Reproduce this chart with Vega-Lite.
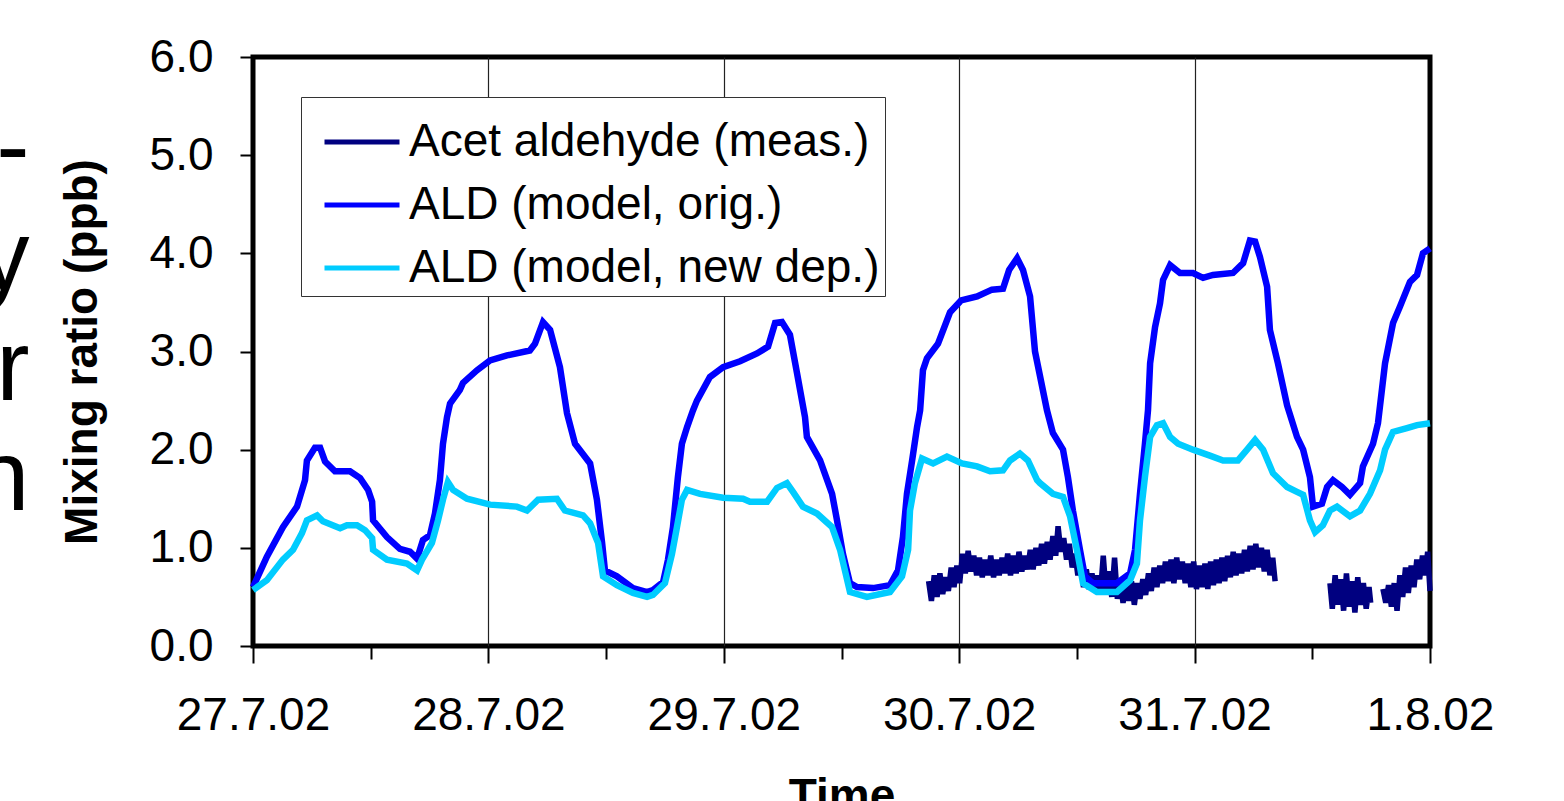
{
 "$schema": "https://vega.github.io/schema/vega-lite/v6.json",
 "autosize": "none",
 "width": 1177,
 "height": 589,
 "padding": {"left": 253, "top": 57, "right": 134, "bottom": 155},
 "background": "white",
 "title": {"text": ["-", "y", "r", "n"], "orient": "left", "angle": 0, "align": "right", "baseline": "middle", "anchor": "middle", "fontSize": 100, "lineHeight": 110, "font": "Liberation Sans", "fontWeight": "normal", "color": "black", "offset": 36, "dx": 62, "dy": -202},
 "datasets": {
  "meas": [
   {"s":"a","t":2.870,"v":0.66},{"s":"a","t":2.882,"v":0.46},{"s":"a","t":2.894,"v":0.72},{"s":"a","t":2.906,"v":0.50},{"s":"a","t":2.918,"v":0.74},{"s":"a","t":2.930,"v":0.53},{"s":"a","t":2.942,"v":0.70},{"s":"a","t":2.954,"v":0.56},{"s":"a","t":2.966,"v":0.80},{"s":"a","t":2.978,"v":0.60},{"s":"a","t":2.990,"v":0.82},{"s":"a","t":3.002,"v":0.64},{"s":"a","t":3.014,"v":0.94},{"s":"a","t":3.026,"v":0.74},{"s":"a","t":3.038,"v":0.97},{"s":"a","t":3.050,"v":0.76},{"s":"a","t":3.062,"v":0.92},{"s":"a","t":3.074,"v":0.72},{"s":"a","t":3.086,"v":0.90},{"s":"a","t":3.098,"v":0.70},{"s":"a","t":3.110,"v":0.88},{"s":"a","t":3.122,"v":0.72},{"s":"a","t":3.134,"v":0.92},{"s":"a","t":3.146,"v":0.70},{"s":"a","t":3.158,"v":0.88},{"s":"a","t":3.170,"v":0.72},{"s":"a","t":3.182,"v":0.90},{"s":"a","t":3.194,"v":0.74},{"s":"a","t":3.206,"v":0.94},{"s":"a","t":3.218,"v":0.72},{"s":"a","t":3.230,"v":0.92},{"s":"a","t":3.242,"v":0.74},{"s":"a","t":3.254,"v":0.96},{"s":"a","t":3.266,"v":0.76},{"s":"a","t":3.278,"v":0.92},{"s":"a","t":3.290,"v":0.78},{"s":"a","t":3.302,"v":0.98},{"s":"a","t":3.314,"v":0.78},{"s":"a","t":3.326,"v":1.00},{"s":"a","t":3.338,"v":0.82},{"s":"a","t":3.350,"v":1.04},{"s":"a","t":3.362,"v":0.84},{"s":"a","t":3.374,"v":1.06},{"s":"a","t":3.386,"v":0.88},{"s":"a","t":3.398,"v":1.12},{"s":"a","t":3.410,"v":0.92},{"s":"a","t":3.420,"v":1.22},{"s":"a","t":3.432,"v":0.96},{"s":"a","t":3.444,"v":1.10},{"s":"a","t":3.456,"v":0.88},{"s":"a","t":3.468,"v":1.04},{"s":"a","t":3.480,"v":0.80},{"s":"a","t":3.492,"v":0.94},{"s":"a","t":3.504,"v":0.72},{"s":"a","t":3.516,"v":0.86},{"s":"a","t":3.528,"v":0.60},{"s":"a","t":3.540,"v":0.78},{"s":"a","t":3.552,"v":0.58},{"s":"a","t":3.564,"v":0.74},{"s":"a","t":3.576,"v":0.56},{"s":"a","t":3.588,"v":0.72},{"s":"a","t":3.600,"v":0.54},{"s":"a","t":3.612,"v":0.92},{"s":"a","t":3.624,"v":0.54},{"s":"a","t":3.636,"v":0.76},{"s":"a","t":3.648,"v":0.50},{"s":"a","t":3.660,"v":0.90},{"s":"a","t":3.672,"v":0.48},{"s":"a","t":3.684,"v":0.66},{"s":"a","t":3.696,"v":0.44},{"s":"a","t":3.708,"v":0.64},{"s":"a","t":3.720,"v":0.46},{"s":"a","t":3.732,"v":0.66},{"s":"a","t":3.744,"v":0.42},{"s":"a","t":3.756,"v":0.64},{"s":"a","t":3.768,"v":0.48},{"s":"a","t":3.780,"v":0.68},{"s":"a","t":3.792,"v":0.52},{"s":"a","t":3.804,"v":0.74},{"s":"a","t":3.816,"v":0.56},{"s":"a","t":3.828,"v":0.80},{"s":"a","t":3.840,"v":0.60},{"s":"a","t":3.852,"v":0.82},{"s":"a","t":3.864,"v":0.64},{"s":"a","t":3.876,"v":0.86},{"s":"a","t":3.888,"v":0.66},{"s":"a","t":3.900,"v":0.88},{"s":"a","t":3.912,"v":0.64},{"s":"a","t":3.924,"v":0.90},{"s":"a","t":3.936,"v":0.68},{"s":"a","t":3.948,"v":0.86},{"s":"a","t":3.960,"v":0.64},{"s":"a","t":3.972,"v":0.84},{"s":"a","t":3.984,"v":0.60},{"s":"a","t":3.996,"v":0.86},{"s":"a","t":4.008,"v":0.58},{"s":"a","t":4.020,"v":0.82},{"s":"a","t":4.032,"v":0.60},{"s":"a","t":4.044,"v":0.84},{"s":"a","t":4.056,"v":0.58},{"s":"a","t":4.068,"v":0.86},{"s":"a","t":4.080,"v":0.62},{"s":"a","t":4.092,"v":0.88},{"s":"a","t":4.104,"v":0.64},{"s":"a","t":4.116,"v":0.90},{"s":"a","t":4.128,"v":0.66},{"s":"a","t":4.140,"v":0.92},{"s":"a","t":4.152,"v":0.70},{"s":"a","t":4.164,"v":0.96},{"s":"a","t":4.176,"v":0.72},{"s":"a","t":4.188,"v":0.94},{"s":"a","t":4.200,"v":0.74},{"s":"a","t":4.212,"v":0.98},{"s":"a","t":4.224,"v":0.76},{"s":"a","t":4.236,"v":1.02},{"s":"a","t":4.248,"v":0.78},{"s":"a","t":4.260,"v":1.04},{"s":"a","t":4.272,"v":0.80},{"s":"a","t":4.284,"v":1.00},{"s":"a","t":4.296,"v":0.76},{"s":"a","t":4.308,"v":0.98},{"s":"a","t":4.320,"v":0.72},{"s":"a","t":4.332,"v":0.90},{"s":"a","t":4.342,"v":0.66},
   {"s":"b","t":4.575,"v":0.64},{"s":"b","t":4.585,"v":0.38},{"s":"b","t":4.597,"v":0.72},{"s":"b","t":4.609,"v":0.42},{"s":"b","t":4.621,"v":0.68},{"s":"b","t":4.633,"v":0.36},{"s":"b","t":4.645,"v":0.74},{"s":"b","t":4.657,"v":0.40},{"s":"b","t":4.669,"v":0.66},{"s":"b","t":4.681,"v":0.34},{"s":"b","t":4.693,"v":0.70},{"s":"b","t":4.705,"v":0.42},{"s":"b","t":4.717,"v":0.64},{"s":"b","t":4.729,"v":0.38},{"s":"b","t":4.741,"v":0.60},{"s":"b","t":4.748,"v":0.44},
   {"s":"c","t":4.800,"v":0.58},{"s":"c","t":4.812,"v":0.44},{"s":"c","t":4.824,"v":0.62},{"s":"c","t":4.836,"v":0.40},{"s":"c","t":4.848,"v":0.64},{"s":"c","t":4.860,"v":0.36},{"s":"c","t":4.872,"v":0.72},{"s":"c","t":4.884,"v":0.50},{"s":"c","t":4.896,"v":0.80},{"s":"c","t":4.908,"v":0.54},{"s":"c","t":4.920,"v":0.82},{"s":"c","t":4.932,"v":0.60},{"s":"c","t":4.944,"v":0.88},{"s":"c","t":4.956,"v":0.68},{"s":"c","t":4.968,"v":0.92},{"s":"c","t":4.980,"v":0.72},{"s":"c","t":4.990,"v":0.96},{"s":"c","t":5.000,"v":0.56}
  ],
  "orig": [
   {"t":0,"v":0.6},{"t":0.059,"v":0.91},{"t":0.127,"v":1.21},{"t":0.187,"v":1.42},{"t":0.221,"v":1.69},{"t":0.229,"v":1.89},{"t":0.263,"v":2.02},{"t":0.285,"v":2.02},{"t":0.306,"v":1.88},{"t":0.348,"v":1.78},{"t":0.412,"v":1.78},{"t":0.455,"v":1.71},{"t":0.489,"v":1.59},{"t":0.506,"v":1.47},{"t":0.51,"v":1.28},{"t":0.569,"v":1.11},{"t":0.624,"v":0.99},{"t":0.667,"v":0.96},{"t":0.697,"v":0.89},{"t":0.722,"v":1.08},{"t":0.752,"v":1.13},{"t":0.773,"v":1.35},{"t":0.794,"v":1.69},{"t":0.807,"v":2.06},{"t":0.824,"v":2.33},{"t":0.837,"v":2.47},{"t":0.879,"v":2.61},{"t":0.892,"v":2.68},{"t":0.952,"v":2.81},{"t":1.007,"v":2.91},{"t":1.079,"v":2.96},{"t":1.176,"v":3.01},{"t":1.198,"v":3.08},{"t":1.232,"v":3.3},{"t":1.262,"v":3.22},{"t":1.304,"v":2.84},{"t":1.334,"v":2.37},{"t":1.368,"v":2.06},{"t":1.432,"v":1.86},{"t":1.461,"v":1.49},{"t":1.483,"v":1.05},{"t":1.495,"v":0.77},{"t":1.546,"v":0.71},{"t":1.614,"v":0.59},{"t":1.674,"v":0.55},{"t":1.699,"v":0.57},{"t":1.742,"v":0.65},{"t":1.763,"v":0.88},{"t":1.784,"v":1.21},{"t":1.805,"v":1.72},{"t":1.822,"v":2.06},{"t":1.844,"v":2.23},{"t":1.869,"v":2.4},{"t":1.886,"v":2.5},{"t":1.941,"v":2.74},{"t":1.997,"v":2.84},{"t":2.069,"v":2.9},{"t":2.141,"v":2.98},{"t":2.188,"v":3.05},{"t":2.218,"v":3.29},{"t":2.247,"v":3.3},{"t":2.281,"v":3.17},{"t":2.311,"v":2.78},{"t":2.345,"v":2.33},{"t":2.353,"v":2.13},{"t":2.409,"v":1.89},{"t":2.46,"v":1.55},{"t":2.481,"v":1.28},{"t":2.506,"v":0.94},{"t":2.536,"v":0.64},{"t":2.566,"v":0.6},{"t":2.634,"v":0.59},{"t":2.706,"v":0.62},{"t":2.74,"v":0.77},{"t":2.761,"v":1.11},{"t":2.778,"v":1.55},{"t":2.8,"v":1.89},{"t":2.821,"v":2.23},{"t":2.834,"v":2.4},{"t":2.846,"v":2.81},{"t":2.863,"v":2.93},{"t":2.91,"v":3.08},{"t":2.961,"v":3.4},{"t":3.008,"v":3.52},{"t":3.076,"v":3.56},{"t":3.139,"v":3.63},{"t":3.186,"v":3.64},{"t":3.212,"v":3.83},{"t":3.246,"v":3.95},{"t":3.271,"v":3.83},{"t":3.301,"v":3.56},{"t":3.322,"v":3.0},{"t":3.373,"v":2.4},{"t":3.398,"v":2.17},{"t":3.441,"v":2.0},{"t":3.462,"v":1.72},{"t":3.483,"v":1.38},{"t":3.513,"v":0.98},{"t":3.534,"v":0.71},{"t":3.568,"v":0.64},{"t":3.67,"v":0.64},{"t":3.726,"v":0.74},{"t":3.747,"v":0.98},{"t":3.768,"v":1.55},{"t":3.789,"v":2.06},{"t":3.802,"v":2.4},{"t":3.811,"v":2.88},{"t":3.832,"v":3.25},{"t":3.853,"v":3.49},{"t":3.866,"v":3.73},{"t":3.896,"v":3.88},{"t":3.938,"v":3.8},{"t":3.993,"v":3.8},{"t":4.036,"v":3.75},{"t":4.078,"v":3.78},{"t":4.163,"v":3.8},{"t":4.206,"v":3.9},{"t":4.235,"v":4.13},{"t":4.257,"v":4.12},{"t":4.278,"v":3.96},{"t":4.308,"v":3.66},{"t":4.32,"v":3.22},{"t":4.354,"v":2.88},{"t":4.393,"v":2.45},{"t":4.435,"v":2.13},{"t":4.461,"v":2.0},{"t":4.49,"v":1.72},{"t":4.503,"v":1.42},{"t":4.541,"v":1.45},{"t":4.563,"v":1.62},{"t":4.588,"v":1.69},{"t":4.626,"v":1.62},{"t":4.66,"v":1.54},{"t":4.703,"v":1.66},{"t":4.715,"v":1.83},{"t":4.758,"v":2.06},{"t":4.779,"v":2.27},{"t":4.809,"v":2.88},{"t":4.843,"v":3.29},{"t":4.873,"v":3.46},{"t":4.915,"v":3.71},{"t":4.945,"v":3.78},{"t":4.97,"v":4.0},{"t":5.0,"v":4.05}
  ],
  "newdep": [
   {"t":0,"v":0.57},{"t":0.059,"v":0.67},{"t":0.127,"v":0.88},{"t":0.17,"v":0.98},{"t":0.208,"v":1.15},{"t":0.229,"v":1.28},{"t":0.272,"v":1.33},{"t":0.297,"v":1.27},{"t":0.37,"v":1.2},{"t":0.399,"v":1.23},{"t":0.442,"v":1.23},{"t":0.476,"v":1.18},{"t":0.506,"v":1.1},{"t":0.51,"v":0.98},{"t":0.569,"v":0.88},{"t":0.654,"v":0.84},{"t":0.697,"v":0.77},{"t":0.718,"v":0.88},{"t":0.76,"v":1.05},{"t":0.786,"v":1.28},{"t":0.807,"v":1.49},{"t":0.828,"v":1.67},{"t":0.85,"v":1.59},{"t":0.909,"v":1.5},{"t":1.007,"v":1.44},{"t":1.121,"v":1.42},{"t":1.164,"v":1.38},{"t":1.211,"v":1.49},{"t":1.291,"v":1.5},{"t":1.325,"v":1.38},{"t":1.402,"v":1.33},{"t":1.432,"v":1.25},{"t":1.466,"v":1.05},{"t":1.487,"v":0.71},{"t":1.546,"v":0.62},{"t":1.614,"v":0.54},{"t":1.674,"v":0.5},{"t":1.699,"v":0.52},{"t":1.75,"v":0.64},{"t":1.78,"v":0.94},{"t":1.801,"v":1.21},{"t":1.822,"v":1.49},{"t":1.844,"v":1.59},{"t":1.899,"v":1.55},{"t":1.997,"v":1.51},{"t":2.082,"v":1.5},{"t":2.111,"v":1.47},{"t":2.184,"v":1.47},{"t":2.226,"v":1.61},{"t":2.268,"v":1.66},{"t":2.294,"v":1.57},{"t":2.336,"v":1.42},{"t":2.396,"v":1.35},{"t":2.46,"v":1.21},{"t":2.494,"v":0.98},{"t":2.536,"v":0.55},{"t":2.608,"v":0.5},{"t":2.706,"v":0.55},{"t":2.757,"v":0.71},{"t":2.783,"v":0.98},{"t":2.791,"v":1.38},{"t":2.812,"v":1.66},{"t":2.842,"v":1.91},{"t":2.889,"v":1.86},{"t":2.948,"v":1.93},{"t":3.012,"v":1.86},{"t":3.076,"v":1.83},{"t":3.131,"v":1.78},{"t":3.186,"v":1.79},{"t":3.216,"v":1.89},{"t":3.258,"v":1.96},{"t":3.292,"v":1.89},{"t":3.331,"v":1.69},{"t":3.343,"v":1.66},{"t":3.398,"v":1.55},{"t":3.441,"v":1.52},{"t":3.471,"v":1.32},{"t":3.5,"v":0.98},{"t":3.526,"v":0.64},{"t":3.585,"v":0.55},{"t":3.67,"v":0.55},{"t":3.726,"v":0.67},{"t":3.755,"v":0.84},{"t":3.768,"v":1.28},{"t":3.789,"v":1.72},{"t":3.811,"v":2.13},{"t":3.84,"v":2.25},{"t":3.866,"v":2.27},{"t":3.896,"v":2.13},{"t":3.93,"v":2.06},{"t":3.993,"v":2.0},{"t":4.065,"v":1.94},{"t":4.121,"v":1.89},{"t":4.184,"v":1.89},{"t":4.223,"v":2.0},{"t":4.257,"v":2.1},{"t":4.291,"v":2.0},{"t":4.333,"v":1.76},{"t":4.393,"v":1.62},{"t":4.435,"v":1.57},{"t":4.461,"v":1.54},{"t":4.49,"v":1.28},{"t":4.512,"v":1.16},{"t":4.545,"v":1.23},{"t":4.575,"v":1.38},{"t":4.605,"v":1.42},{"t":4.66,"v":1.32},{"t":4.703,"v":1.38},{"t":4.745,"v":1.55},{"t":4.788,"v":1.79},{"t":4.809,"v":2.0},{"t":4.843,"v":2.18},{"t":4.902,"v":2.22},{"t":4.945,"v":2.25},{"t":5.0,"v":2.27}
  ]
 },
 "encoding": {
  "x": {
   "field": "t", "type": "quantitative",
   "scale": {"domain": [0, 5], "nice": false, "zero": false},
   "axis": {
    "values": [0, 0.5, 1, 1.5, 2, 2.5, 3, 3.5, 4, 4.5, 5],
    "labelExpr": "datum.value % 1 === 0 ? ['27.7.02','28.7.02','29.7.02','30.7.02','31.7.02','1.8.02'][datum.value] : ''",
    "labelOverlap": false,
    "labelFlush": false,
    "labelPadding": 30,
    "tickSize": {"condition": {"test": "datum.value % 1 === 0", "value": 17}, "value": 13},
    "grid": true,
    "gridColor": "#222",
    "gridWidth": 1.2,
    "gridOpacity": {"condition": {"test": "datum.value % 1 === 0 && datum.value > 0 && datum.value < 5", "value": 1}, "value": 0},
    "title": "Time",
    "titlePadding": 36
   }
  },
  "y": {
   "field": "v", "type": "quantitative",
   "scale": {"domain": [0, 6], "nice": false},
   "axis": {
    "values": [0, 1, 2, 3, 4, 5, 6],
    "format": ".1f",
    "tickSize": 13,
    "labelPadding": 27,
    "grid": false,
    "title": "Mixing ratio (ppb)",
    "titlePadding": 43
   }
  }
 },
 "layer": [
  {
   "data": {"name": "meas"},
   "mark": {"type": "line", "strokeWidth": 5.5, "strokeJoin": "miter"},
   "encoding": {
    "detail": {"field": "s"},
    "color": {
     "datum": "Acet aldehyde (meas.)", "type": "nominal",
     "scale": {"domain": ["Acet aldehyde (meas.)", "ALD (model, orig.)", "ALD (model, new dep.)"], "range": ["#000080", "#0000FF", "#00CCFF"]},
     "legend": {"title": null, "orient": "none", "legendX": 48, "legendY": 40, "symbolType": "stroke", "symbolSize": 5625, "symbolStrokeWidth": 5, "symbolOffset": 16, "labelFontSize": 46, "labelFont": "Liberation Sans", "labelColor": "black", "labelOffset": 7, "labelLimit": 0, "labelExpr": "datum.label + '\u00a0\u00a0\u00a0\u00a0'", "rowPadding": -4, "padding": 5, "strokeColor": "#333", "fillColor": "white"}
    }
   }
  },
  {
   "data": {"name": "orig"},
   "mark": {"type": "line", "strokeWidth": 6.5},
   "encoding": {"color": {"datum": "ALD (model, orig.)", "type": "nominal"}}
  },
  {
   "data": {"name": "newdep"},
   "mark": {"type": "line", "strokeWidth": 6.5},
   "encoding": {"color": {"datum": "ALD (model, new dep.)", "type": "nominal"}}
  }
 ],
 "config": {
  "view": {"stroke": "black", "strokeWidth": 5},
  "axis": {"domain": false, "labelFont": "Liberation Sans", "labelFontSize": 46, "labelColor": "black", "titleFont": "Liberation Sans", "titleFontSize": 46, "titleFontWeight": "bold", "titleColor": "black", "tickColor": "black", "tickWidth": 2}
 }
}
